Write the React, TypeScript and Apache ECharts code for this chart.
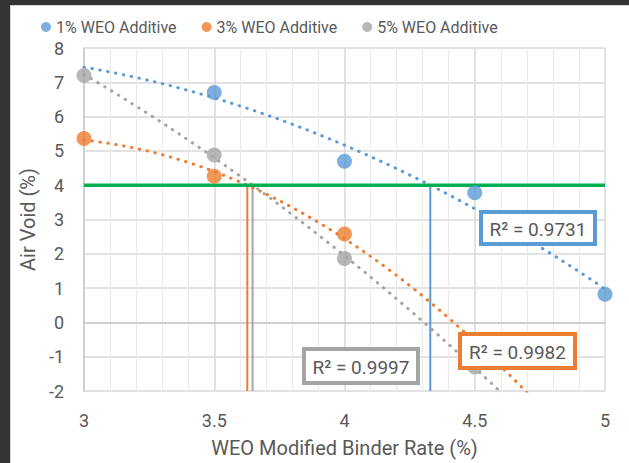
import React, { useEffect, useRef } from "react";
import * as echarts from "echarts";

// Binder rate (%) on the x axis
const binderRate = [3, 3.5, 4, 4.5, 5];
// Air void (%) for each WEO additive dosage
const void1 = [null, 6.7, 4.7, 3.78, 0.82];
const void3 = [5.36, 4.26, 2.58, -0.6, null];
const void5 = [7.2, 4.88, 1.86, -1.3, null];

const seriesNames = ["1% WEO Additive", "3% WEO Additive", "5% WEO Additive"];
const seriesColors = ["#5B9BD5", "#ED7D31", "#A5A5A5"];
const rSquaredLabels = ["R² = 0.9731", "R² = 0.9982", "R² = 0.9997"];

const TARGET_VOID = 4;
const X_MIN = 3;
const X_MAX = 5;
const Y_MIN = -2;
const Y_MAX = 8;

const FONT = "Roboto, 'Open Sans', sans-serif";
const TEXT = "#595959";

type Pt = [number, number];

function pairs(values: (number | null)[]): Pt[] {
  const out: Pt[] = [];
  values.forEach((v, i) => {
    if (v !== null) out.push([binderRate[i], v]);
  });
  return out;
}

// Second-order least-squares trendline: y = c0 + c1 x + c2 x^2
function polyFit2(pts: Pt[]): [number, number, number] {
  let s0 = 0, s1 = 0, s2 = 0, s3 = 0, s4 = 0, t0 = 0, t1 = 0, t2 = 0;
  for (const [x, y] of pts) {
    s0 += 1; s1 += x; s2 += x * x; s3 += x * x * x; s4 += x * x * x * x;
    t0 += y; t1 += x * y; t2 += x * x * y;
  }
  const det3 = (m: number[][]) =>
    m[0][0] * (m[1][1] * m[2][2] - m[1][2] * m[2][1]) -
    m[0][1] * (m[1][0] * m[2][2] - m[1][2] * m[2][0]) +
    m[0][2] * (m[1][0] * m[2][1] - m[1][1] * m[2][0]);
  const A = [
    [s0, s1, s2],
    [s1, s2, s3],
    [s2, s3, s4],
  ];
  const B = [t0, t1, t2];
  const D = det3(A);
  const coef = [0, 1, 2].map((k) => {
    const M = A.map((row, r) => row.map((v, c) => (c === k ? B[r] : v)));
    return det3(M) / D;
  });
  return [coef[0], coef[1], coef[2]];
}

function trendPoints(c: [number, number, number]): Pt[] {
  const out: Pt[] = [];
  const steps = 200;
  for (let i = 0; i <= steps; i++) {
    const x = X_MIN + ((X_MAX - X_MIN) * i) / steps;
    out.push([x, c[0] + c[1] * x + c[2] * x * x]);
  }
  return out;
}

// x where the trendline reaches the target air void
function crossing(c: [number, number, number], target: number): number {
  const a = c[2], b = c[1], k = c[0] - target;
  if (Math.abs(a) < 1e-12) return -k / b;
  const disc = Math.sqrt(b * b - 4 * a * k);
  const r1 = (-b + disc) / (2 * a);
  const r2 = (-b - disc) / (2 * a);
  return r1 >= X_MIN && r1 <= X_MAX ? r1 : r2;
}

export default function App() {
  const ref = useRef<HTMLDivElement>(null);

  useEffect(() => {
    if (!ref.current) return;
    const chart = echarts.init(ref.current, undefined, { renderer: "svg" });

    const datasets = [pairs(void1), pairs(void3), pairs(void5)];
    const fits = datasets.map(polyFit2);

    const trendSeries = fits.map((c, i) => ({
      name: seriesNames[i] + " trend",
      type: "line",
      data: trendPoints(c),
      showSymbol: false,
      symbol: "none",
      clip: true,
      silent: true,
      z: 3,
      lineStyle: { color: seriesColors[i], width: 3, type: [0.5, 7.5], cap: "round" },
    }));

    const dropSeries = fits.map((c, i) => {
      const xr = crossing(c, TARGET_VOID);
      return {
        name: seriesNames[i] + " target",
        type: "line",
        data: [
          [xr, TARGET_VOID],
          [xr, Y_MIN],
        ],
        symbol: "none",
        silent: true,
        z: 2,
        lineStyle: { color: seriesColors[i], width: 2 },
      };
    });

    const pointSeries = datasets.map((d, i) => ({
      name: seriesNames[i],
      type: "scatter",
      data: d,
      symbol: "circle",
      symbolSize: 15,
      z: 5,
      itemStyle: { color: seriesColors[i] },
    }));

    const targetSeries = {
      name: "Target",
      type: "line",
      data: [
        [X_MIN, TARGET_VOID],
        [X_MAX, TARGET_VOID],
      ],
      symbol: "none",
      silent: true,
      z: 4,
      lineStyle: { color: "#00B050", width: 3.5 },
    };

    const boxes = [
      { x: 481, y: 212, w: 114, h: 32 },
      { x: 460, y: 334, w: 115, h: 34 },
      { x: 304, y: 349, w: 114, h: 34 },
    ];

    const graphic: any[] = [
      { type: "rect", z: 100, shape: { x: 0, y: 0, width: 629, height: 5 }, style: { fill: "#333333" } },
      { type: "rect", z: 100, shape: { x: 0, y: 0, width: 10, height: 463 }, style: { fill: "#333333" } },
      { type: "line", z: 100, shape: { x1: 10.5, y1: 5, x2: 10.5, y2: 463 }, style: { stroke: "#d4d4d4", lineWidth: 1 } },
      { type: "line", z: 100, shape: { x1: 10, y1: 5.5, x2: 629, y2: 5.5 }, style: { stroke: "#d4d4d4", lineWidth: 1 } },
    ];
    boxes.forEach((b, i) => {
      graphic.push({
        type: "rect",
        z: 100,
        shape: { x: b.x, y: b.y, width: b.w, height: b.h },
        style: { fill: "#ffffff", stroke: seriesColors[i], lineWidth: 4 },
      });
      graphic.push({
        type: "text",
        z: 101,
        x: b.x + b.w / 2,
        y: b.y + b.h / 2 + 1,
        style: {
          text: rSquaredLabels[i],
          align: "center",
          verticalAlign: "middle",
          fill: TEXT,
          fontSize: 19,
          fontFamily: FONT,
        },
      });
    });

    chart.setOption({
      animation: false,
      backgroundColor: "#ffffff",
      textStyle: { fontFamily: FONT, color: TEXT },
      legend: {
        data: seriesNames,
        left: 36,
        top: 14,
        icon: "circle",
        itemWidth: 10,
        itemHeight: 10,
        itemGap: 25,
        textStyle: { color: TEXT, fontSize: 16, fontFamily: FONT },
      },
      grid: { left: 84, top: 48, width: 521, height: 349, containLabel: false },
      xAxis: {
        type: "value",
        min: X_MIN,
        max: X_MAX,
        interval: 0.5,
        name: "WEO Modified Binder Rate (%)",
        nameLocation: "middle",
        nameGap: 47,
        nameTextStyle: { color: TEXT, fontSize: 20, fontFamily: FONT },
        axisLine: { show: true, lineStyle: { color: "#c9c9c9", width: 1.5 } },
        axisTick: { show: false },
        axisLabel: { color: TEXT, fontSize: 18, margin: 20, fontFamily: FONT },
        splitLine: { show: true, lineStyle: { color: "#d9d9d9", width: 1.5 } },
        minorTick: { show: false, splitNumber: 5 },
        minorSplitLine: { show: true, lineStyle: { color: "#ebebeb", width: 1.2 } },
      },
      yAxis: {
        type: "value",
        min: Y_MIN,
        max: Y_MAX,
        interval: 1,
        name: "Air Void (%)",
        nameLocation: "middle",
        nameGap: 42,
        nameTextStyle: { color: TEXT, fontSize: 20, fontFamily: FONT },
        axisLine: { show: true, lineStyle: { color: "#c9c9c9", width: 1.5 } },
        axisTick: { show: false },
        axisLabel: { color: TEXT, fontSize: 18, margin: 20, fontFamily: FONT },
        splitLine: { show: true, lineStyle: { color: "#d9d9d9", width: 1.5 } },
      },
      graphic,
      series: [...dropSeries, targetSeries, ...trendSeries, ...pointSeries],
    });

    return () => chart.dispose();
  }, []);

  return (
    <div
      ref={ref}
      style={{ position: "fixed", left: 0, top: 0, width: 629, height: 463 }}
    />
  );
}
